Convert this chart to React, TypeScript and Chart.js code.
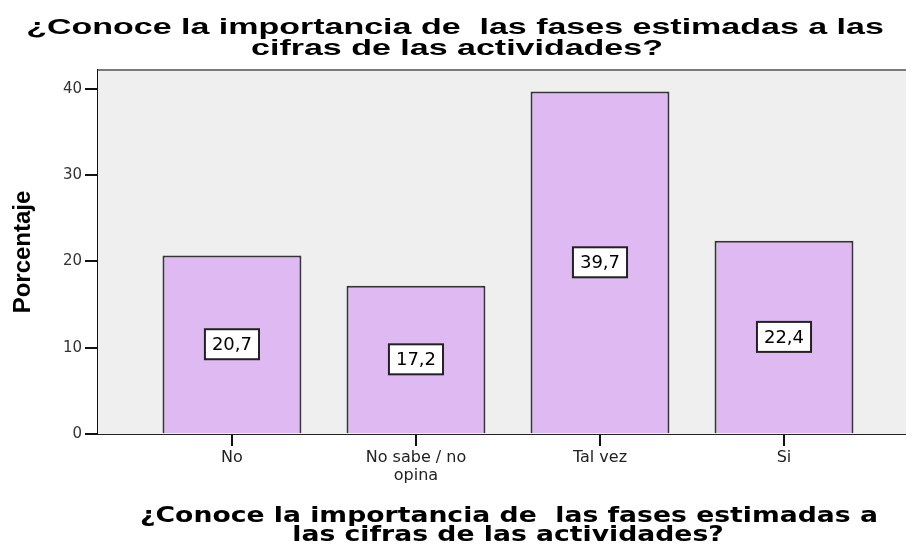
import React, { useEffect, useRef } from 'react';
import { Chart, registerables } from 'chart.js';

Chart.register(...registerables);

// ---- data ----
const categories = ['No', 'No sabe / no opina', 'Tal vez', 'Si'];
const categoryLabelLines = [['No'], ['No sabe / no', 'opina'], ['Tal vez'], ['Si']];
const percentages = [20.7, 17.2, 39.7, 22.4];
const yTicks = [0, 10, 20, 30, 40];
const titleLines = ['¿Conoce la importancia de  las fases estimadas a las', 'cifras de las actividades?'];
const xTitleLines = ['¿Conoce la importancia de  las fases estimadas a', 'las cifras de las actividades?'];
const yTitle = 'Porcentaje';

const W = 906;
const H = 547;

function drawStretched(ctx: CanvasRenderingContext2D, text: string, cx: number, baseline: number, sx: number, font: string) {
  ctx.save();
  ctx.font = font;
  ctx.fillStyle = '#000';
  ctx.textAlign = 'center';
  ctx.textBaseline = 'alphabetic';
  ctx.translate(cx, baseline);
  ctx.scale(sx, 1);
  ctx.fillText(text, 0, 0);
  ctx.restore();
}

const plotBackground = {
  id: 'plotBackground',
  beforeDatasetsDraw(chart: any) {
    const { ctx, chartArea } = chart;
    ctx.save();
    ctx.fillStyle = '#efefef';
    ctx.fillRect(chartArea.left, chartArea.top, chartArea.right - chartArea.left, chartArea.bottom - chartArea.top);
    ctx.strokeStyle = '#7a7a7a';
    ctx.lineWidth = 2;
    ctx.beginPath();
    ctx.moveTo(chartArea.left, chartArea.top);
    ctx.lineTo(chartArea.right, chartArea.top);
    ctx.stroke();
    ctx.restore();
  },
};

const titles = {
  id: 'stretchedTitles',
  afterDraw(chart: any) {
    const { ctx } = chart;
    const topFont = 'bold 22px "Liberation Sans", Arial, sans-serif';
    drawStretched(ctx, titleLines[0], 455, 34, 1.545, topFont);
    drawStretched(ctx, titleLines[1], 457, 55, 1.545, topFont);
    const botFont = 'bold 20.5px "DejaVu Sans", Verdana, sans-serif';
    drawStretched(ctx, xTitleLines[0], 509, 522, 1.3, botFont);
    drawStretched(ctx, xTitleLines[1], 508, 541, 1.3, botFont);
  },
};

const valueBoxes = {
  id: 'valueBoxes',
  afterDatasetsDraw(chart: any) {
    const { ctx } = chart;
    const meta = chart.getDatasetMeta(0);
    ctx.save();
    ctx.font = '18px "DejaVu Sans", sans-serif';
    meta.data.forEach((bar: any, i: number) => {
      const txt = percentages[i].toFixed(1).replace('.', ',');
      const { x, y, base } = bar.getProps(['x', 'y', 'base'], true);
      const cy = (y + base) / 2;
      const w = ctx.measureText(txt).width + 14;
      const h = 30;
      ctx.fillStyle = '#ffffff';
      ctx.fillRect(x - w / 2, cy - h / 2, w, h);
      ctx.strokeStyle = '#222';
      ctx.lineWidth = 2;
      ctx.strokeRect(x - w / 2, cy - h / 2, w, h);
      ctx.fillStyle = '#000';
      ctx.textAlign = 'center';
      ctx.textBaseline = 'middle';
      ctx.fillText(txt, x, cy + 1);
    });
    ctx.restore();
  },
};

export default function App() {
  const canvasRef = useRef<HTMLCanvasElement | null>(null);

  useEffect(() => {
    const canvas = canvasRef.current;
    if (!canvas) return;
    const chart = new Chart(canvas, {
      type: 'bar',
      data: {
        datasets: [
          {
            label: yTitle,
            data: categories.map((_, i) => ({ x: i, y: percentages[i] })),
            backgroundColor: '#dfb9f2',
            borderColor: '#353535',
            borderWidth: 2,
            barPercentage: 0.755,
            categoryPercentage: 1,
          },
        ],
      },
      options: {
        responsive: false,
        animation: false,
        layout: { padding: { top: 70, left: 0, right: 0, bottom: 0 } },
        plugins: {
          legend: { display: false },
          tooltip: { enabled: false },
          title: { display: false },
        },
        scales: {
          x: {
            type: 'linear',
            offset: false,
            min: -0.728,
            max: 3.663,
            afterBuildTicks: (scale: any) => {
              scale.ticks = categories.map((_, i) => ({ value: i }));
            },
            afterFit: (scale: any) => {
              scale.height = 113;
            },
            ticks: {
              autoSkip: false,
              maxRotation: 0,
              padding: 3,
              color: '#222',
              font: { family: '"DejaVu Sans", sans-serif', size: 16, lineHeight: 1.12 },
              callback: (v: any) => categoryLabelLines[Math.round(Number(v))] ?? '',
            },
            grid: {
              offset: false,
              drawOnChartArea: false,
              drawTicks: true,
              tickLength: 12,
              color: '#111',
              lineWidth: 2,
            },
            border: { display: true, color: '#222', width: 2 },
          },
          y: {
            type: 'linear',
            min: 0,
            max: 42.2,
            afterBuildTicks: (scale: any) => {
              scale.ticks = yTicks.map((v) => ({ value: v }));
            },
            afterFit: (scale: any) => {
              scale.width = 98;
            },
            ticks: {
              padding: 3,
              color: '#333',
              font: { family: '"DejaVu Sans", sans-serif', size: 15 },
            },
            grid: {
              drawOnChartArea: false,
              drawTicks: true,
              tickLength: 13,
              color: '#111',
              lineWidth: 2,
            },
            border: { display: true, color: '#111', width: 2 },
            title: {
              display: true,
              text: yTitle,
              color: '#000',
              padding: { top: 9, bottom: 0 },
              font: { family: '"Liberation Sans", Arial, sans-serif', size: 24, weight: 'bold' },
            },
          },
        },
      },
      plugins: [plotBackground, valueBoxes, titles],
    } as any);
    return () => chart.destroy();
  }, []);

  return (
    <div style={{ position: 'fixed', left: 0, top: 0, width: W, height: H, background: '#fff' }}>
      <canvas ref={canvasRef} width={W} height={H} style={{ display: 'block', width: W, height: H }} />
    </div>
  );
}
